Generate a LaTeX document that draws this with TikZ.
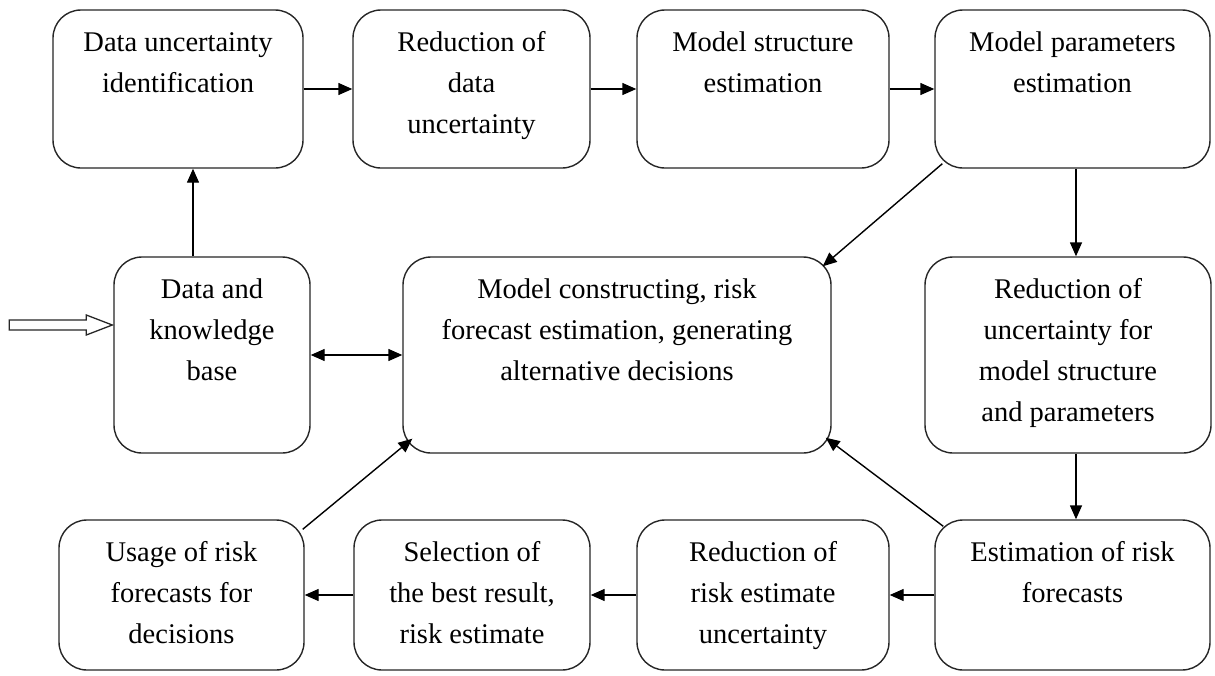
\documentclass[tikz,border=0pt]{standalone}
\usepackage{fontspec}
\setmainfont{Liberation Serif}
\usetikzlibrary{arrows.meta,calc}
\tikzset{
  box/.style={draw=black!85, line width=1.4pt, rounded corners=28pt, inner sep=0pt, fill=white},
  tip/.tip={Triangle[length=14pt,width=12pt]},
  arr/.style={draw=black, line width=1.4pt, -tip},
  darr/.style={draw=black, line width=1.4pt, tip-tip},
  hollow/.style={draw=black!85, line width=1.3pt, fill=white}
}
\newcommand{\bx}[5]{%
  \node[box, minimum width=#3pt, minimum height=#4pt] (#1) at (#2)
   {\parbox[c][#4pt][t]{#3pt}{\centering\fontsize{28.5}{41}\selectfont\vspace*{13pt}\strut #5\par}};}
\begin{document}
\begin{tikzpicture}[x=1pt,y=-1pt]
\useasboundingbox (0,0) rectangle (1215,675);
\fill[white] (0,0) rectangle (1215,675);
% top row
\bx{dui}{178,89}{250}{158}{Data uncertainty\\identification}
\bx{rdu}{471.5,89}{237}{158}{Reduction of\\data\\uncertainty}
\bx{mse}{763,89}{252}{158}{Model structure\\estimation}
\bx{mpe}{1072.5,89}{275}{158}{Model parameters\\estimation}
% middle row
\bx{dkb}{212,355}{196}{196}{Data and\\knowledge\\base}
\bx{mod}{617,355}{428}{196}{Model constructing, risk\\forecast estimation, generating\\alternative decisions}
\bx{rum}{1068,355}{286}{196}{Reduction of\\uncertainty for\\model structure\\and parameters}
% bottom row
\bx{urf}{181.5,595}{245}{150}{Usage of risk\\forecasts for\\decisions}
\bx{sel}{472,595}{236}{150}{Selection of\\the best result,\\risk estimate}
\bx{rre}{763,595}{252}{150}{Reduction of\\risk estimate\\uncertainty}
\bx{erf}{1072.5,595}{275}{150}{Estimation of risk\\forecasts}
% input hollow arrow
\coordinate (inp) at ($(dkb.west)+(-1,-30)$);
\draw[hollow] ($(inp)+(-103,-5)$) -- ($(inp)+(-26,-5)$) -- ($(inp)+(-26,-10)$) -- (inp)
  -- ($(inp)+(-26,10)$) -- ($(inp)+(-26,5)$) -- ($(inp)+(-103,5)$) -- cycle;
% helper coordinates
\coordinate (dkbT) at ($(dkb.north)+(-19,0)$);
\coordinate (duiB) at (dkbT |- dui.south);
\coordinate (mpeB) at ($(mpe.south)+(3.5,0)$);
\coordinate (rumT) at (mpeB |- rum.north);
\coordinate (rumB) at (mpeB |- rum.south);
\coordinate (erfT) at (mpeB |- erf.north);
% top row connectors
\draw[arr] (dui.east) -- (rdu.west);
\draw[arr] (rdu.east) -- (mse.west);
\draw[arr] (mse.east) -- (mpe.west);
% data base to top
\draw[arr] (dkbT) -- (duiB);
\draw[darr] (dkb.east) -- (mod.west);
% right column
\draw[arr] (mpeB) -- (rumT);
\draw[arr] (rumB) -- (erfT);
% diagonals
\draw[arr] ($(mpe.south west)+(8,-5)$) -- ($(mod.north east)+(-9,10)$);
\draw[arr] ($(erf.north west)+(9,7)$) -- ($(mod.south east)+(-6,-16)$);
\draw[arr] ($(urf.north east)+(-2,10)$) -- ($(mod.south west)+(10,-15)$);
% bottom row connectors
\draw[arr] (erf.west) -- (rre.east);
\draw[arr] (rre.west) -- (sel.east);
\draw[arr] (sel.west) -- (urf.east);
\end{tikzpicture}
\end{document}
